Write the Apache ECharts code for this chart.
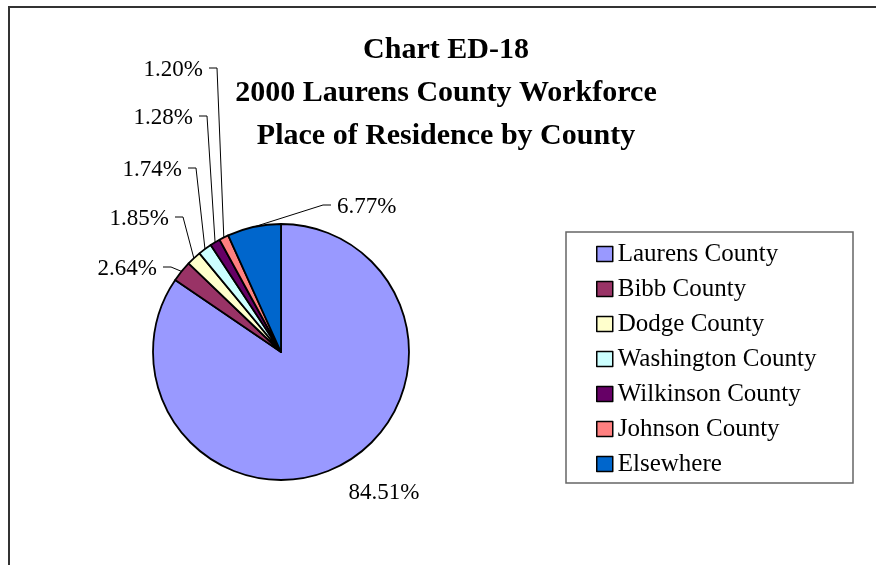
<!DOCTYPE html>
<html>
<head>
<meta charset="utf-8">
<script src="https://cdn.jsdelivr.net/npm/echarts@6/dist/echarts.min.js"></script>
<style>
  html, body { margin: 0; padding: 0; background: #fff; }
  #chart { width: 876px; height: 565px; }
</style>
</head>
<body>
<div id="chart"></div>
<script>
// Workforce share by county of residence (percent)
const counties = ['Laurens County', 'Bibb County', 'Dodge County', 'Washington County',
                  'Wilkinson County', 'Johnson County', 'Elsewhere'];
const shares = [84.51, 2.64, 1.85, 1.74, 1.28, 1.20, 6.77];
const sliceColors = ['#9999FF', '#993366', '#FFFFCC', '#CCFFFF', '#660066', '#FF8080', '#0066CC'];
const titleLines = ['Chart ED-18', '2000 Laurens County Workforce', 'Place of Residence by County'];

// Where each percentage label sits: [x, y, align]
const labelSpots = [
  [384, 493, 'center'],
  [157, 269, 'right'],
  [169, 219, 'right'],
  [182, 170, 'right'],
  [193, 118, 'right'],
  [203, 70, 'right'],
  [337, 207, 'left']
];

const serif = '"Liberation Serif", "Times New Roman", serif';
const chart = echarts.init(document.getElementById('chart'), null, { renderer: 'canvas' });

chart.setOption({
  backgroundColor: '#fff',
  animation: false,
  graphic: [
    { type: 'rect', silent: true, z: -1,
      shape: { x: 9, y: 7, width: 1000, height: 1000 },
      style: { fill: 'none', stroke: '#333', lineWidth: 2 } },
    { type: 'rect', silent: true, z: -1,
      shape: { x: 566, y: 232, width: 287, height: 251 },
      style: { fill: 'none', stroke: '#666', lineWidth: 1.5 } },
    { type: 'text', silent: true,
      x: 446, y: 29,
      style: {
        text: titleLines.join('\n'),
        align: 'center', verticalAlign: 'top',
        font: 'bold 30px ' + serif, lineHeight: 43, fill: '#000'
      } }
  ],
  legend: {
    orient: 'vertical',
    left: 591,
    top: 236,
    itemWidth: 16,
    itemHeight: 15,
    itemGap: 9,
    icon: 'rect',
    itemStyle: { borderColor: '#000', borderWidth: 1.5 },
    textStyle: { fontFamily: serif, fontSize: 25, color: '#000', lineHeight: 26 },
    data: counties
  },
  series: [{
    type: 'pie',
    center: [281, 352],
    radius: 128,
    startAngle: 90,
    clockwise: true,
    avoidLabelOverlap: false,
    itemStyle: { borderColor: '#000', borderWidth: 1.8 },
    emphasis: { disabled: true },
    label: {
      show: true,
      position: 'outside',
      fontFamily: serif,
      fontSize: 23,
      color: '#000',
      formatter: p => shares[p.dataIndex].toFixed(2) + '%'
    },
    labelLine: { show: true, lineStyle: { color: '#000', width: 1 } },
    labelLayout: function (params) {
      const spot = labelSpots[params.dataIndex];
      const x = spot[0], y = spot[1], align = spot[2];
      const out = { x: x, y: y, align: align, verticalAlign: 'middle' };
      const pts = params.labelLinePoints;
      if (pts && pts.length && align !== 'center') {
        const edge = pts[0];
        const dir = align === 'right' ? 1 : -1;
        out.labelLinePoints = [
          [edge[0], edge[1]],
          [x + dir * 14, y - 2],
          [x + dir * 6, y - 2]
        ];
      }
      return out;
    },
    data: counties.map((name, i) => ({
      name: name,
      value: shares[i],
      itemStyle: { color: sliceColors[i] },
      labelLine: { show: i !== 0 }
    }))
  }]
});
</script>
</body>
</html>
